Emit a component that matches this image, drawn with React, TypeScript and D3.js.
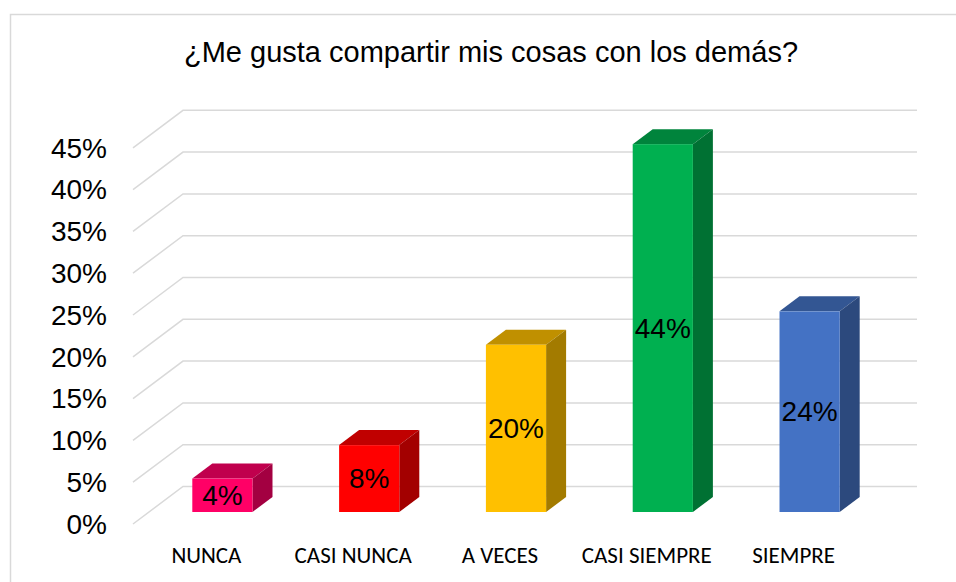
import React from 'react';
import * as d3 from 'd3';

const categories = ['NUNCA', 'CASI NUNCA', 'A VECES', 'CASI SIEMPRE', 'SIEMPRE'];
const values = [0.04, 0.08, 0.2, 0.44, 0.24];
const ticks = [0, 0.05, 0.1, 0.15, 0.2, 0.25, 0.3, 0.35, 0.4, 0.45];
const frontColors = ['#FF0066', '#FF0000', '#FFC000', '#00B050', '#4472C4'];
const title = '¿Me gusta compartir mis cosas con los demás?';

const W = 956;
const H = 582;
// full depth of the 3d box and the slice of it the bars use
const DX = 50;
const DY = -37.5;
const D0 = 0.32;
const D1 = 0.72;

export default function App() {
  const x = d3.scaleBand<string>().domain(categories).range([133, 867]);
  const y = d3.scaleLinear().domain([0, 0.45]).range([524, 147.8]);
  const pct = d3.format('.0%');
  const barW = x.step() * 0.41;

  const grid = '#D9D9D9';
  const arial = '"Liberation Sans", Arial, sans-serif';

  return (
    <svg width={W} height={H} style={{ position: 'absolute', left: 0, top: 0, background: '#fff' }}>
      {/* chart border */}
      <path d={`M10.5,${H}V14.5H${W}`} fill="none" stroke={grid} strokeWidth={1.5} />

      <text x={491} y={62} textAnchor="middle" fontFamily={arial} fontSize={29} fill="#000">
        {title}
      </text>

      {ticks.map((t) => {
        const yf = y(t);
        const x0 = x.range()[0];
        const x1 = x.range()[1];
        return (
          <g key={t}>
            <path
              d={`M${x0},${yf}L${x0 + DX},${yf + DY}H${x1 + DX}`}
              fill="none"
              stroke={grid}
              strokeWidth={1.5}
            />
            <text
              x={107}
              y={yf}
              dy="0.35em"
              textAnchor="end"
              fontFamily={arial}
              fontSize={28}
              fill="#000"
            >
              {pct(t)}
            </text>
          </g>
        );
      })}

      {categories.map((c, i) => {
        const v = values[i];
        const base = d3.color(frontColors[i])!;
        const top = base.darker(0.8).formatHex();
        const side = base.darker(1.25).formatHex();
        const left = (x(c) as number) + (x.step() - barW) / 2 + DX * D0;
        const right = left + barW;
        const yb = y(0) + DY * D0;
        const yt = y(v) + DY * D0;
        const ddx = DX * (D1 - D0);
        const ddy = DY * (D1 - D0);
        return (
          <g key={c}>
            <path
              d={`M${left},${yt}L${left + ddx},${yt + ddy}H${right + ddx}L${right},${yt}Z`}
              fill={top}
            />
            <path
              d={`M${right},${yt}L${right + ddx},${yt + ddy}V${yb + ddy}L${right},${yb}Z`}
              fill={side}
            />
            <rect x={left} y={yt} width={barW} height={yb - yt} fill={frontColors[i]} />
            <text
              x={(left + right) / 2}
              y={(yt + yb) / 2}
              dy="0.35em"
              textAnchor="middle"
              fontFamily={arial}
              fontSize={28}
              fill="#000"
            >
              {pct(v)}
            </text>
            <text
              x={(x(c) as number) + x.step() / 2}
              y={562.5}
              textAnchor="middle"
              fontFamily='Carlito, Calibri, Lato, sans-serif'
              fontSize={23}
              fill="#000"
            >
              {c}
            </text>
          </g>
        );
      })}
    </svg>
  );
}
